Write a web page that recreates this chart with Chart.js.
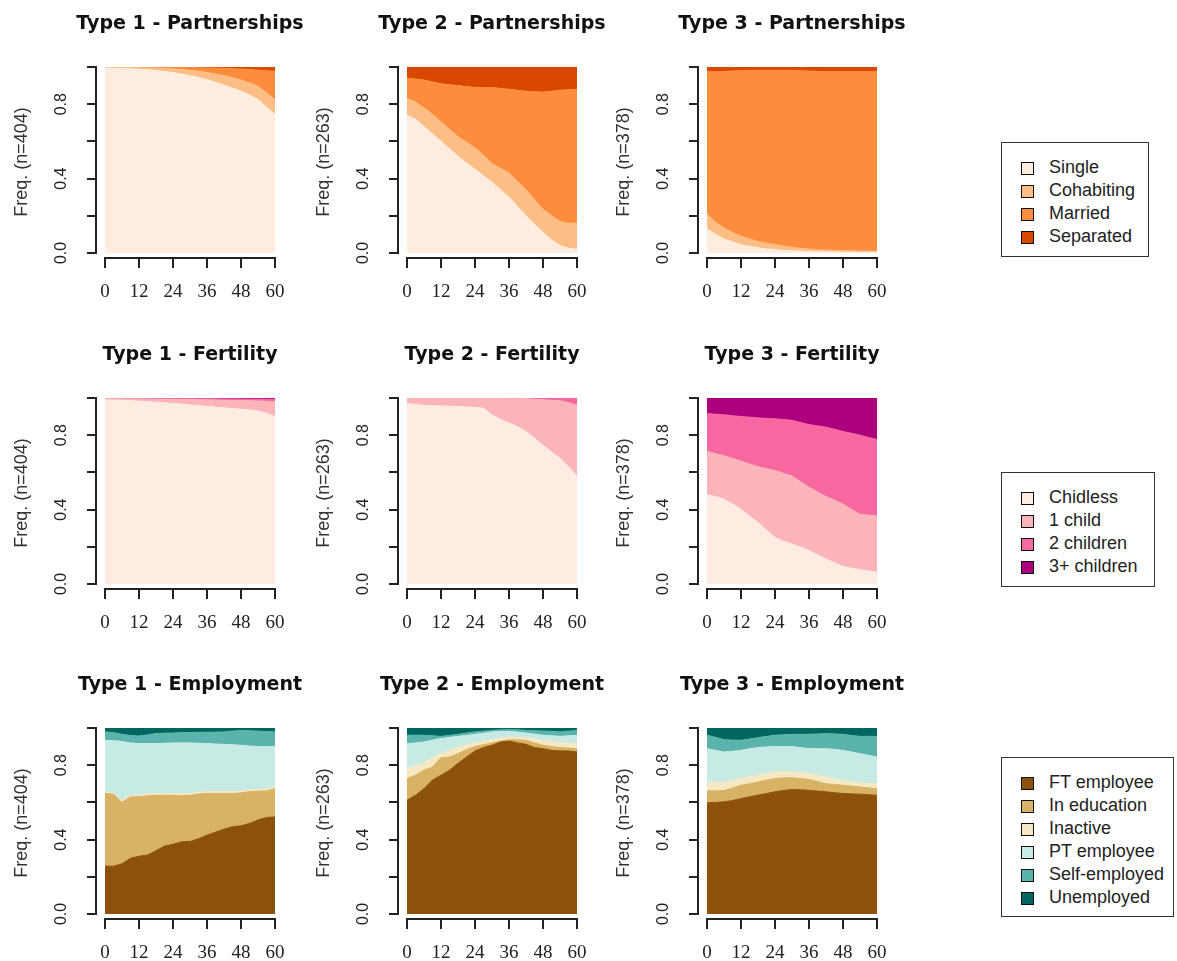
<!DOCTYPE html>
<html>
<head>
<meta charset="utf-8">
<script src="https://cdn.jsdelivr.net/npm/chart.js@4.4.1/dist/chart.umd.min.js"></script>
<style>
  body { margin: 0; background: #fff; width: 1177px; height: 961px; position: relative; overflow: hidden;
         font-family: "Liberation Sans", Arial, sans-serif; }
  canvas { position: absolute; }
  .legend { position: absolute; border: 1px solid #333; box-sizing: border-box; background: #fff; }
  .legend div { position: absolute; left: 47px; font-size: 18px; line-height: 20px; color: #222; white-space: nowrap; }
  .legend span { position: absolute; left: 19px; width: 11px; height: 11px; border: 1px solid #111; }
</style>
</head>
<body>
<script>
// months since start, sampled every 3 months
const months = [0, 3, 6, 9, 12, 15, 18, 21, 24, 27, 30, 33, 36, 39, 42, 45, 48, 51, 54, 57, 60];
const xTicks = [0, 12, 24, 36, 48, 60];
const xTickLabels = ['0', '12', '24', '36', '48', '60'];
const yTicks = [0, 0.2, 0.4, 0.6, 0.8, 1];
const yTickLabels = ['0.0', '', '0.4', '', '0.8', ''];

const typeNames = ['Type 1', 'Type 2', 'Type 3'];
const typeN = [404, 263, 378];

const partStates = ['Single', 'Cohabiting', 'Married', 'Separated'];
const fertStates = ['Chidless', '1 child', '2 children', '3+ children'];
const empStates = ['FT employee', 'In education', 'Inactive', 'PT employee', 'Self-employed', 'Unemployed'];

const partColors = ['#FEEDDE', '#FDBE85', '#FD8D3C', '#D94701'];
const fertColors = ['#FEEBE2', '#FBB4B9', '#F768A1', '#AE017E'];
const empColors = ['#8C510A', '#D8B365', '#F6E8C3', '#C7EAE5', '#5AB4AC', '#01665E'];

// share of each state per month, in state order (bottom to top)
const partType1 = [
  [.995, .993, .991, .99, .988, .985, .981, .976, .97, .962, .953, .943, .932, .918, .903, .887, .87, .85, .825, .785, .745],
  [.003, .005, .006, .007, .008, .01, .013, .016, .02, .024, .029, .034, .038, .044, .05, .056, .06, .065, .07, .077, .08],
  [0, 0, .001, .001, .002, .003, .004, .006, .007, .011, .014, .019, .025, .032, .04, .048, .059, .071, .088, .118, .152],
  [.002, .002, .002, .002, .002, .002, .002, .002, .003, .003, .004, .004, .005, .006, .007, .009, .011, .014, .017, .02, .023]
];
const partType2 = [
  [.74, .72, .68, .64, .6, .56, .52, .485, .45, .415, .38, .34, .3, .25, .2, .155, .11, .07, .04, .025, .02],
  [.09, .09, .1, .105, .105, .105, .105, .11, .115, .11, .1, .115, .13, .135, .14, .13, .125, .13, .13, .135, .14],
  [.11, .125, .15, .175, .205, .24, .275, .3, .325, .365, .41, .43, .45, .49, .53, .582, .63, .67, .705, .718, .72],
  [.06, .065, .07, .08, .09, .095, .1, .105, .11, .11, .11, .115, .12, .125, .13, .133, .135, .13, .125, .122, .12]
];
const partType3 = [
  [.13, .1, .075, .06, .045, .035, .028, .022, .018, .014, .012, .01, .008, .007, .006, .005, .004, .004, .003, .003, .003],
  [.08, .065, .06, .05, .045, .04, .034, .03, .027, .023, .018, .015, .013, .011, .01, .009, .009, .008, .008, .007, .007],
  [.765, .81, .841, .868, .89, .907, .92, .93, .937, .945, .952, .955, .957, .958, .959, .961, .962, .963, .964, .965, .965],
  [.025, .025, .024, .022, .02, .018, .018, .018, .018, .018, .018, .02, .022, .024, .025, .025, .025, .025, .025, .025, .025]
];

const fertType1 = [
  [.99, .989, .988, .986, .983, .98, .977, .974, .971, .967, .963, .959, .955, .951, .947, .943, .94, .936, .93, .918, .9],
  [.006, .007, .007, .009, .012, .014, .017, .019, .022, .025, .029, .032, .035, .038, .041, .044, .046, .049, .054, .064, .08],
  [.001, .001, .002, .002, .002, .003, .003, .004, .004, .005, .005, .005, .006, .007, .007, .008, .009, .009, .01, .011, .013],
  [.003, .003, .003, .003, .003, .003, .003, .003, .003, .003, .003, .004, .004, .004, .005, .005, .005, .006, .006, .007, .007]
];
const fertType2 = [
  [.97, .965, .96, .958, .958, .956, .954, .952, .95, .945, .91, .885, .866, .845, .82, .785, .745, .71, .675, .63, .58],
  [.03, .035, .04, .042, .042, .044, .046, .048, .05, .055, .09, .115, .133, .154, .177, .208, .245, .278, .31, .345, .38],
  [0, 0, 0, 0, 0, 0, 0, 0, 0, 0, 0, 0, .001, .001, .003, .006, .008, .009, .012, .023, .038],
  [0, 0, 0, 0, 0, 0, 0, 0, 0, 0, 0, 0, 0, 0, 0, .001, .002, .003, .003, .002, .002]
];
const fertType3 = [
  [.48, .47, .455, .43, .4, .365, .33, .29, .25, .23, .215, .198, .18, .157, .134, .114, .095, .085, .077, .07, .063],
  [.234, .23, .235, .245, .26, .28, .3, .33, .36, .365, .365, .352, .34, .338, .336, .336, .335, .315, .298, .3, .303],
  [.202, .213, .22, .23, .24, .252, .263, .27, .278, .289, .3, .318, .337, .355, .373, .382, .39, .41, .425, .418, .411],
  [.084, .087, .09, .095, .1, .103, .107, .11, .112, .116, .12, .132, .143, .15, .157, .168, .18, .19, .2, .212, .223]
];

const empType1 = [
  [.257, .257, .27, .3, .31, .317, .34, .365, .375, .388, .39, .405, .424, .44, .456, .469, .474, .487, .505, .519, .522],
  [.391, .387, .33, .33, .32, .319, .298, .273, .263, .248, .248, .24, .224, .208, .192, .179, .177, .171, .155, .143, .152],
  [.004, .006, .008, .008, .008, .009, .009, .01, .01, .01, .01, .01, .01, .01, .01, .01, .01, .009, .009, .009, .008],
  [.282, .282, .32, .282, .278, .271, .269, .27, .272, .274, .272, .263, .258, .256, .254, .252, .246, .236, .231, .229, .218],
  [.045, .043, .038, .04, .041, .047, .054, .054, .053, .055, .056, .059, .061, .064, .067, .073, .08, .082, .083, .081, .079],
  [.021, .025, .034, .04, .043, .037, .03, .028, .027, .025, .024, .023, .023, .022, .021, .017, .013, .015, .017, .019, .021]
];
const empType2 = [
  [.612, .639, .674, .72, .746, .773, .81, .844, .877, .895, .907, .925, .93, .92, .912, .895, .889, .88, .877, .877, .871],
  [.116, .107, .099, .07, .094, .071, .052, .04, .023, .015, .013, .005, .007, .016, .022, .025, .018, .02, .018, .015, .018],
  [.054, .049, .037, .05, .022, .036, .033, .024, .02, .02, .017, .015, .015, .014, .014, .02, .027, .027, .025, .026, .027],
  [.134, .125, .115, .095, .081, .07, .06, .052, .046, .042, .042, .036, .03, .028, .025, .027, .027, .031, .035, .04, .045],
  [.045, .041, .036, .023, .012, .01, .011, .013, .013, .011, .008, .009, .009, .012, .014, .018, .023, .024, .024, .025, .026],
  [.039, .039, .039, .042, .045, .04, .034, .027, .021, .017, .013, .01, .009, .01, .013, .015, .016, .018, .021, .017, .013]
];
const empType3 = [
  [.598, .6, .603, .61, .62, .63, .639, .648, .657, .664, .669, .668, .665, .661, .657, .652, .648, .646, .644, .641, .639],
  [.064, .062, .061, .068, .072, .07, .071, .072, .071, .068, .064, .06, .058, .051, .043, .044, .044, .042, .039, .037, .035],
  [.048, .046, .041, .039, .036, .038, .036, .035, .036, .032, .031, .032, .032, .034, .037, .03, .024, .022, .022, .024, .026],
  [.179, .172, .166, .158, .152, .15, .149, .143, .136, .136, .136, .135, .134, .143, .152, .159, .164, .161, .157, .151, .144],
  [.072, .07, .066, .06, .054, .053, .053, .057, .061, .064, .066, .071, .077, .079, .081, .083, .086, .089, .093, .102, .111],
  [.039, .05, .063, .065, .066, .059, .052, .045, .039, .036, .034, .034, .034, .032, .03, .032, .034, .04, .045, .045, .045]
];

// R style axis lines: only from first to last tick, detached from the plot
const rAxes = {
  id: 'rAxes',
  afterDraw(chart) {
    const { ctx, chartArea, scales: { x, y } } = chart;
    ctx.save();
    ctx.strokeStyle = '#222';
    ctx.lineWidth = 2;
    ctx.beginPath();
    const lx = chartArea.left - 1;
    ctx.moveTo(lx, y.getPixelForValue(0) + 1);
    ctx.lineTo(lx, y.getPixelForValue(1) - 1);
    const by = chartArea.bottom + 1;
    ctx.moveTo(x.getPixelForValue(0) - 1, by);
    ctx.lineTo(x.getPixelForValue(60) + 1, by);
    ctx.stroke();
    ctx.restore();
  }
};

// canvas is wider than its column so the title centres over the plot without squeezing;
// an empty right-hand axis keeps the plot itself at the right place
const panelW = 380;
const panelH = 330;

function makePanel(left, top, title, n, states, colors, series) {
  const cv = document.createElement('canvas');
  cv.width = panelW;
  cv.height = panelH;
  cv.style.left = left + 'px';
  cv.style.top = top + 'px';
  document.body.appendChild(cv);

  new Chart(cv, {
    type: 'line',
    data: {
      datasets: states.map((s, i) => ({
        label: s,
        data: series[i].map((v, k) => ({ x: months[k], y: v })),
        backgroundColor: colors[i],
        borderColor: colors[i],
        borderWidth: 1,
        pointRadius: 0,
        tension: 0,
        fill: i === 0 ? 'origin' : '-1'
      }))
    },
    options: {
      responsive: false,
      animation: false,
      layout: { padding: 0 },
      plugins: {
        legend: { display: false },
        tooltip: { enabled: false },
        title: {
          display: true,
          text: title,
          color: '#111',
          font: { family: 'DejaVu Sans', size: 19, weight: 'bold', lineHeight: 1 },
          padding: { top: 15, bottom: 33 }
        }
      },
      scales: {
        x: {
          type: 'linear',
          min: -2.82,
          max: 60,
          afterBuildTicks: s => { s.ticks = xTicks.map(v => ({ value: v })); },
          afterFit: s => { s.height = 73; },
          grid: { drawOnChartArea: false, tickLength: 11, color: '#222', lineWidth: 2 },
          border: { display: false },
          ticks: {
            autoSkip: false,
            maxRotation: 0,
            padding: 13,
            color: '#222',
            font: { family: 'Liberation Serif', size: 19 },
            callback: (v, i) => xTickLabels[i]
          }
        },
        y: {
          stacked: true,
          min: -0.0215,
          max: 1,
          afterBuildTicks: s => { s.ticks = yTicks.map(v => ({ value: v })); },
          afterFit: s => { s.width = 97; },
          grid: { drawOnChartArea: false, tickLength: 10, color: '#222', lineWidth: 2 },
          border: { display: false },
          ticks: {
            autoSkip: false,
            minRotation: 90,
            maxRotation: 90,
            crossAlign: 'center',
            padding: 14,
            color: '#222',
            font: { family: 'Liberation Sans', size: 16 },
            callback: (v, i) => yTickLabels[i]
          },
          title: {
            display: true,
            text: 'Freq. (n=' + n + ')',
            color: '#333',
            font: { family: 'Liberation Sans', size: 18 },
            padding: { top: 11, bottom: 0 }
          }
        },
        spacer: {
          type: 'linear',
          position: 'right',
          afterFit: s => { s.width = panelW - 275; },
          grid: { display: false },
          border: { display: false },
          ticks: { display: false }
        }
      }
    },
    plugins: [rAxes]
  });
}

function makeLegend(left, top, width, height, states, colors) {
  const box = document.createElement('div');
  box.className = 'legend';
  box.style.left = left + 'px';
  box.style.top = top + 'px';
  box.style.width = width + 'px';
  box.style.height = height + 'px';
  states.forEach((s, i) => {
    const cy = 25 + 23 * i;
    const sq = document.createElement('span');
    sq.style.top = (cy - 6) + 'px';
    sq.style.background = colors[i];
    box.appendChild(sq);
    const tx = document.createElement('div');
    tx.style.top = (cy - 11) + 'px';
    tx.textContent = s;
    box.appendChild(tx);
  });
  document.body.appendChild(box);
}

const colLeft = [0, 302, 602];
const rowTop = [0, 331, 661];
const partData = [partType1, partType2, partType3];
const fertData = [fertType1, fertType2, fertType3];
const empData = [empType1, empType2, empType3];

for (let c = 0; c < 3; c++) {
  makePanel(colLeft[c], rowTop[0], typeNames[c] + ' - Partnerships', typeN[c], partStates, partColors, partData[c]);
  makePanel(colLeft[c], rowTop[1], typeNames[c] + ' - Fertility', typeN[c], fertStates, fertColors, fertData[c]);
  makePanel(colLeft[c], rowTop[2], typeNames[c] + ' - Employment', typeN[c], empStates, empColors, empData[c]);
}

makeLegend(1001, 142, 148, 115, partStates, partColors);
makeLegend(1001, 472, 154, 115, fertStates, fertColors);
makeLegend(1001, 757, 173, 160, empStates, empColors);
</script>
</body>
</html>
